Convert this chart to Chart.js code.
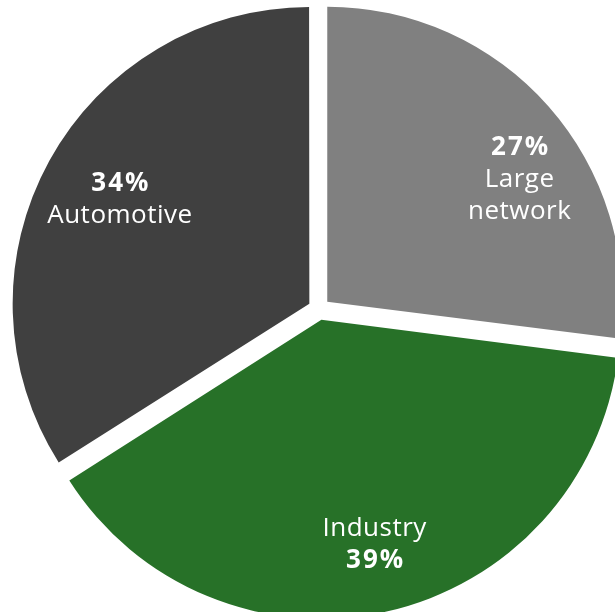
<!DOCTYPE html>
<html>
<head>
<meta charset="utf-8">
<script src="https://cdn.jsdelivr.net/npm/chart.js@4.4.0/dist/chart.umd.min.js"></script>
<style>
  html, body { margin: 0; background: #fff; }
  canvas { display: block; }
</style>
</head>
<body>
<canvas id="pie" width="615" height="612"></canvas>
<script>
let labels = ["Large network", "Industry", "Automotive"];
let shares = [27, 39, 34];
let colors = ["#808080", "#277128", "#404040"];

// text lines inside each slice, "%" marks the bold percentage line
let sliceText = [
  ["%", "Large", "network"],
  ["Industry", "%"],
  ["%", "Automotive"],
];

// where the text block sits: extra turn (deg) from the slice middle, share of radius
let textTurn = [8.5, -0.7, 0];
let textFrac = [0.81, 0.82, 0.77];

const sliceLabels = {
  id: "sliceLabels",
  afterDatasetsDraw(chart) {
    let ctx = chart.ctx;
    let arcs = chart.getDatasetMeta(0).data;
    let lineH = 32;

    ctx.save();
    ctx.fillStyle = "#ffffff";
    ctx.textAlign = "center";
    ctx.textBaseline = "middle";

    arcs.forEach((arc, i) => {
      let mid = (arc.startAngle + arc.endAngle) / 2 + (textTurn[i] * Math.PI) / 180;
      let r = arc.outerRadius * textFrac[i];
      let cx = arc.x + Math.cos(mid) * r;
      let cy = arc.y + Math.sin(mid) * r;
      let lines = sliceText[i];
      let top = cy - ((lines.length - 1) * lineH) / 2;

      lines.forEach((line, k) => {
        if (line === "%") {
          ctx.font = "bold 26px 'Open Sans'";
          ctx.letterSpacing = "2px";
          ctx.fillText(shares[i] + "%", cx + 1, top + k * lineH);
        } else {
          ctx.font = "26px 'Open Sans'";
          ctx.letterSpacing = "0.5px";
          ctx.fillText(line, cx, top + k * lineH);
        }
      });
    });
    ctx.restore();
  },
};

new Chart(document.getElementById("pie"), {
  type: "pie",
  data: {
    labels: labels,
    datasets: [
      {
        data: shares,
        backgroundColor: colors,
        borderWidth: 0,
        offset: 44,
        hoverOffset: 44,
        radius: 295,
        clip: false,
      },
    ],
  },
  options: {
    responsive: false,
    animation: false,
    devicePixelRatio: 1,
    layout: { padding: { left: 23, right: 0, top: 6, bottom: 0 } },
    plugins: {
      legend: { display: false },
      tooltip: { enabled: false },
    },
    events: [],
  },
  plugins: [sliceLabels],
});
</script>
</body>
</html>
